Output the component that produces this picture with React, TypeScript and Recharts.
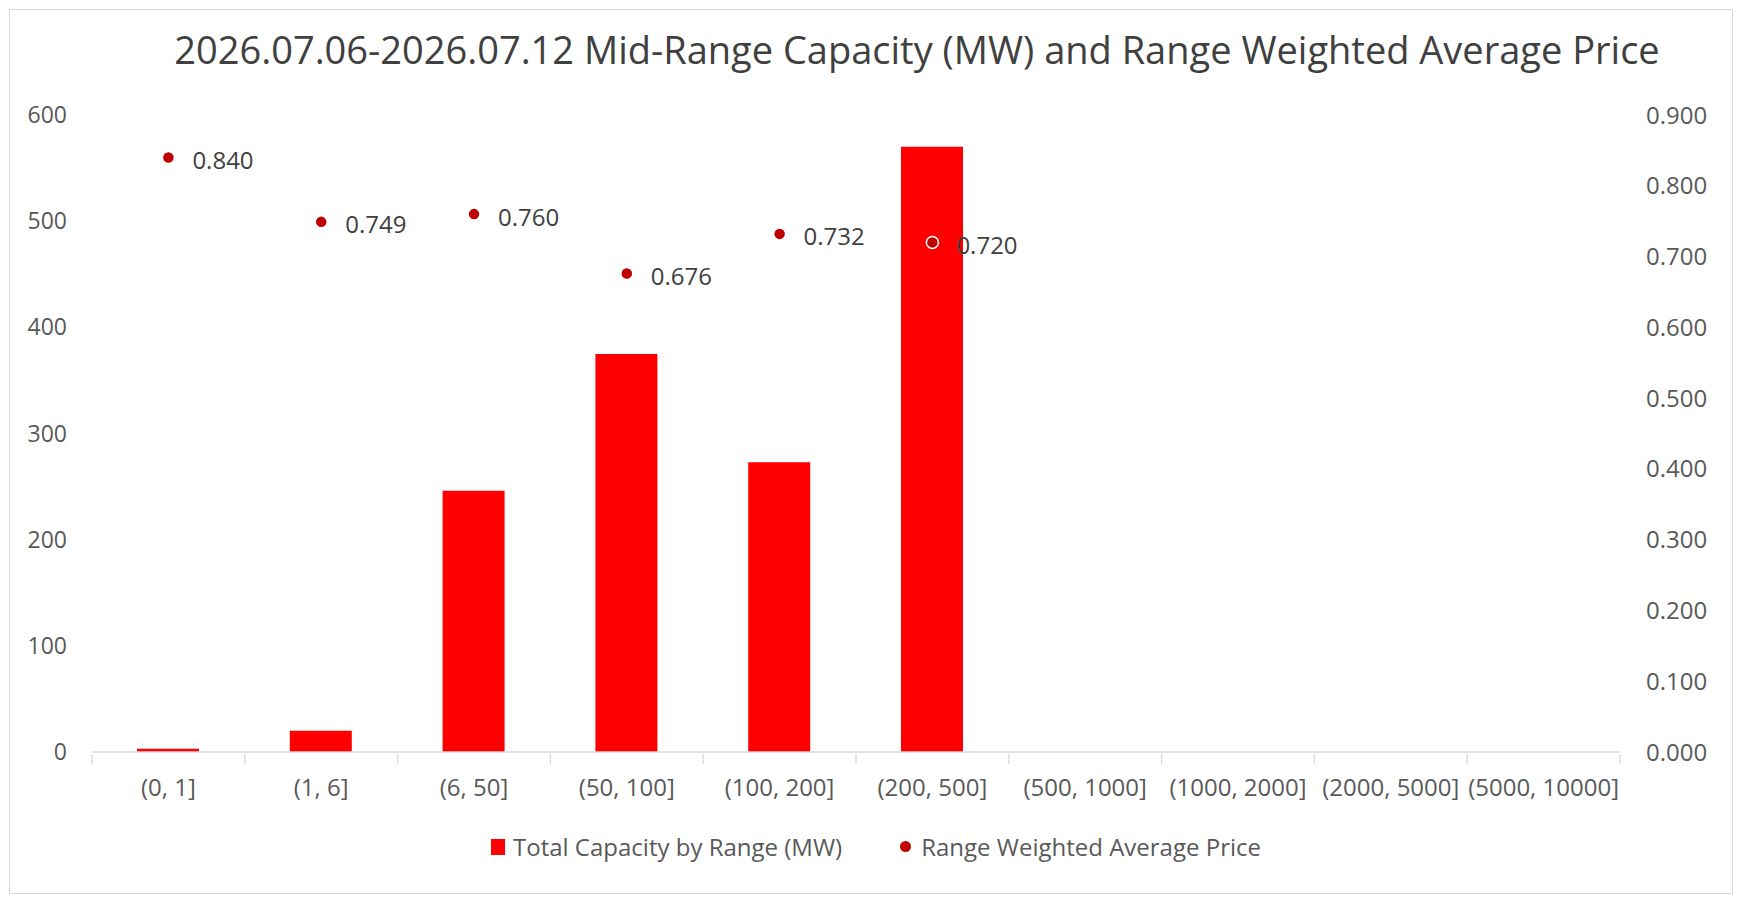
import React from "react";
import {
  ComposedChart,
  Bar,
  Line,
  XAxis,
  YAxis,
  Legend,
  LabelList,
} from "recharts";

const categories = [
  "(0, 1]",
  "(1, 6]",
  "(6, 50]",
  "(50, 100]",
  "(100, 200]",
  "(200, 500]",
  "(500, 1000]",
  "(1000, 2000]",
  "(2000, 5000]",
  "(5000, 10000]",
];
const capacity = [3, 20, 246, 375, 273, 570, null, null, null, null];
const price = [0.84, 0.749, 0.76, 0.676, 0.732, 0.72, null, null, null, null];
const leftTicks = [0, 100, 200, 300, 400, 500, 600];
const rightTicks = [0, 0.1, 0.2, 0.3, 0.4, 0.5, 0.6, 0.7, 0.8, 0.9];

const W = 1746;
const H = 901;
const LEFT_W = 92;
const RIGHT_W = 126;
const BAND = (W - LEFT_W - RIGHT_W) / categories.length;
const FONT = "'Open Sans', sans-serif";
const AXIS_COLOR = "#595959";
const GRID = "#d9d9d9";

const data = categories.map((name, i) => ({
  name,
  capacity: capacity[i],
  price: price[i],
}));

// Excel-style ticks sit between categories, not under them
const CategoryTick = (props: any) => {
  const { x, y, payload, index } = props;
  const left = x - BAND / 2;
  const right = x + BAND / 2;
  return (
    <g>
      <line x1={left} y1={y} x2={left} y2={y + 10} stroke={GRID} strokeWidth={1.3} />
      {index === categories.length - 1 && (
        <line x1={right} y1={y} x2={right} y2={y + 10} stroke={GRID} strokeWidth={1.3} />
      )}
      <text
        x={x}
        y={y + 32}
        textAnchor="middle"
        dominantBaseline="central"
        fill={AXIS_COLOR}
        fontSize={24}
        fontFamily={FONT}
      >
        {payload.value}
      </text>
    </g>
  );
};

const PriceLabel = (props: any) => {
  const { x, y, value } = props;
  if (value == null) return null;
  return (
    <text
      x={x + 24}
      y={y + 2}
      dominantBaseline="central"
      fill="#404040"
      fontSize={24}
      fontFamily={FONT}
    >
      {Number(value).toFixed(3)}
    </text>
  );
};

const LegendContent = () => (
  <div
    style={{
      height: 33,
      display: "flex",
      justifyContent: "center",
      alignItems: "center",
      fontFamily: FONT,
      fontSize: 24,
      color: AXIS_COLOR,
      paddingLeft: 6,
    }}
  >
    <span style={{ display: "inline-block", width: 14, height: 16, background: "#ff0000", marginRight: 8 }} />
    <span>Total Capacity by Range (MW)</span>
    <span
      style={{
        display: "inline-block",
        width: 11,
        height: 11,
        borderRadius: "50%",
        background: "#c00000",
        marginLeft: 58,
        marginRight: 10,
      }}
    />
    <span>Range Weighted Average Price</span>
  </div>
);

export default function App() {
  return (
    <div style={{ position: "relative", width: W, height: H, background: "#fff" }}>
      <style>{`body{margin:0}`}</style>
      <div
        style={{
          position: "absolute",
          left: 9,
          top: 9,
          width: 1724,
          height: 885,
          border: `1.5px solid ${GRID}`,
          boxSizing: "border-box",
        }}
      />
      <div
        style={{
          position: "absolute",
          left: 170,
          width: 1494,
          top: 23,
          textAlign: "center",
          fontFamily: FONT,
          fontSize: 38,
          color: "#404040",
          whiteSpace: "nowrap",
        }}
      >
        2026.07.06-2026.07.12 Mid-Range Capacity (MW) and Range Weighted Average Price
      </div>
      <ComposedChart
        width={W}
        height={H}
        data={data}
        margin={{ top: 115, right: 0, bottom: 38, left: 0 }}
        barSize={62}
        style={{ position: "absolute", left: 0, top: 0 }}
      >
        <XAxis
          dataKey="name"
          height={78}
          tickSize={0}
          tickLine={false}
          axisLine={{ stroke: GRID, strokeWidth: 1.3 }}
          tick={<CategoryTick />}
          interval={0}
        />
        <YAxis
          yAxisId="left"
          width={LEFT_W}
          domain={[0, 600]}
          ticks={leftTicks}
          axisLine={false}
          tickLine={false}
          tickSize={0}
          tickMargin={25}
          tick={{ fill: AXIS_COLOR, fontSize: 23, fontFamily: FONT }}
        />
        <YAxis
          yAxisId="right"
          orientation="right"
          width={RIGHT_W}
          domain={[0, 0.9]}
          ticks={rightTicks}
          axisLine={false}
          tickLine={false}
          tickSize={0}
          tickMargin={26}
          tickFormatter={(v: number) => v.toFixed(3)}
          tick={{ fill: AXIS_COLOR, fontSize: 24, fontFamily: FONT, textAnchor: "start" }}
        />
        <Legend verticalAlign="bottom" content={<LegendContent />} />
        <Bar
          yAxisId="left"
          dataKey="capacity"
          name="Total Capacity by Range (MW)"
          fill="#ff0000"
          isAnimationActive={false}
        />
        <Line
          yAxisId="right"
          dataKey="price"
          name="Range Weighted Average Price"
          stroke="none"
          dot={{ r: 6, fill: "#c00000", stroke: "#ffffff", strokeWidth: 1.5 }}
          activeDot={false}
          isAnimationActive={false}
        >
          <LabelList dataKey="price" content={<PriceLabel />} />
        </Line>
      </ComposedChart>
    </div>
  );
}
